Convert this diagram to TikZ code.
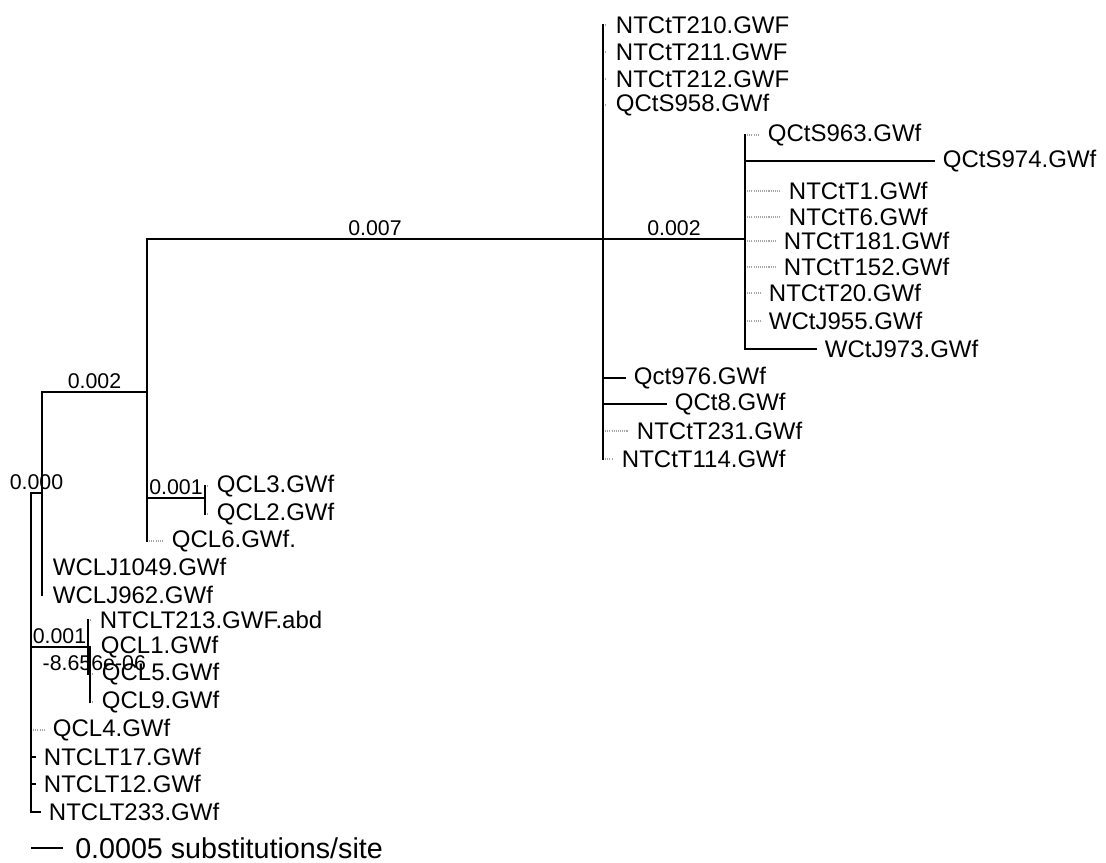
\documentclass[tikz,border=0pt]{standalone}
\usepackage{fontspec}
\setmainfont{Liberation Sans}
\usetikzlibrary{positioning}

\begin{document}
\begin{tikzpicture}[x=0.75pt, y=-0.75pt,
  branch/.style={line width=1.5pt, line cap=rect},
  twig/.style={line width=0.9pt, gray!70, dash pattern=on 0.8pt off 0.8pt},
  leaf/.style={inner xsep=6.5pt, inner ysep=0pt, font=\fontsize{18}{20}\selectfont},
  blen/.style={above, inner sep=2pt, font=\fontsize{16}{18}\selectfont}]

\useasboundingbox (0,0) rectangle (1106,863);

% internal nodes of the tree
\coordinate (r) at (31,493);
\coordinate (a) at (42,493);
\coordinate (b) at (147,392);
\coordinate (c) at (603,239);
\coordinate (d) at (745,239);
\coordinate (e) at (205,498);
\coordinate (f) at (88,647);
\coordinate (g) at (90,674);

% --- clade at c ---
\foreach \y/\e/\s/\n/\t in {25/607/twig/t210/NTCtT210.GWF, 52/607/twig/t211/NTCtT211.GWF,
    79/607/twig/t212/NTCtT212.GWF, 105/607/twig/s958/QCtS958.GWf,
    378/625/branch/q976/Qct976.GWf, 404/666/branch/q8/QCt8.GWf,
    431/628/twig/t231/NTCtT231.GWf, 459/613/twig/t114/NTCtT114.GWf} {
  \coordinate (\n) at (\e,\y);
  \draw[\s] (c |- \n) -- (\n);
  \node[leaf, right=0pt of \n] (lab\n) {\t};
}

% --- clade at d ---
\foreach \y/\e/\s/\n/\t in {135/759/twig/s963/QCtS963.GWf, 161/934/branch/s974/QCtS974.GWf,
    191/780/twig/t1/NTCtT1.GWf, 217/780/twig/t6/NTCtT6.GWf,
    241/775/twig/t181/NTCtT181.GWf, 267/775/twig/t152/NTCtT152.GWf,
    293/760/twig/t20/NTCtT20.GWf, 321/760/twig/j955/WCtJ955.GWf,
    349/816/branch/j973/WCtJ973.GWf} {
  \coordinate (\n) at (\e,\y);
  \draw[\s] (d |- \n) -- (\n);
  \node[leaf, right=0pt of \n] (lab\n) {\t};
}

% --- QCL clades ---
\foreach \y/\e/\n/\t in {486/208/l3/QCL3.GWf, 514/208/l2/QCL2.GWf} {
  \coordinate (\n) at (\e,\y);
  \draw[twig] (e |- \n) -- (\n);
  \node[leaf, right=0pt of \n] (lab\n) {\t};
}
\coordinate (l6) at (163,541);
\draw[twig] (b |- l6) -- (l6);
\node[leaf, right=0pt of l6] (labl6) {QCL6.GWf.};

\foreach \y/\e/\n/\t in {567/44/j1049/WCLJ1049.GWf, 595/44/j962/WCLJ962.GWf} {
  \coordinate (\n) at (\e,\y);
  \draw[twig] (a |- \n) -- (\n);
  \node[leaf, right=0pt of \n] (lab\n) {\t};
}

\coordinate (t213) at (91,620);
\draw[twig] (f |- t213) -- (t213);
\node[leaf, right=0pt of t213] (labt213) {NTCLT213.GWF.abd};

\foreach \y/\e/\n/\t in {647/92/l1/QCL1.GWf, 674/93/l5/QCL5.GWf, 702/93/l9/QCL9.GWf} {
  \coordinate (\n) at (\e,\y);
  \draw[twig] (g |- \n) -- (\n);
  \node[leaf, right=0pt of \n] (lab\n) {\t};
}

% --- tips on the root ---
\foreach \y/\e/\s/\n/\t in {730/44/twig/l4/QCL4.GWf, 757/35/branch/t17/NTCLT17.GWf,
    784/35/branch/t12/NTCLT12.GWf, 812/40/branch/t233/NTCLT233.GWf} {
  \coordinate (\n) at (\e,\y);
  \draw[\s] (r |- \n) -- (\n);
  \node[leaf, right=0pt of \n] (lab\n) {\t};
}

% verticals
\draw[branch] (r) -- (r |- t233);
\draw[branch] (a |- b) -- (a |- j962);
\draw[branch] (b |- c) -- (b |- l6);
\draw[branch] (c |- t210) -- (c |- t114);
\draw[branch] (d |- s963) -- (d |- j973);
\draw[branch] (e |- l3) -- (e |- l2);
\draw[branch] (f |- t213) -- (f |- g);
\draw[branch] (g |- l1) -- (g |- l9);

% inner branches with their lengths
\draw[branch] (r) -- node[blen] {0.000} (a);
\draw[branch] (a |- b) -- node[blen] {0.002} (b);
\draw[branch] (b |- c) -- node[blen] {0.007} (c);
\draw[branch] (c) -- node[blen] {0.002} (d);
\draw[branch] (b |- e) -- node[blen] {0.001} (e);
\draw[branch] (r |- f) -- node[blen] {0.001} (f);
\draw[branch] (f |- g) -- node[blen, xshift=4pt] {-8.656e-06} (g);

% scale bar
\coordinate (s0) at (31,848);
\coordinate (s1) at (63,848);
\draw[branch, line cap=butt] (s0) -- (s1);
\node[right=9pt of s1, inner sep=0pt, font=\fontsize{21.5}{24}\selectfont] (scl) {0.0005 substitutions/site};

\end{tikzpicture}
\end{document}
